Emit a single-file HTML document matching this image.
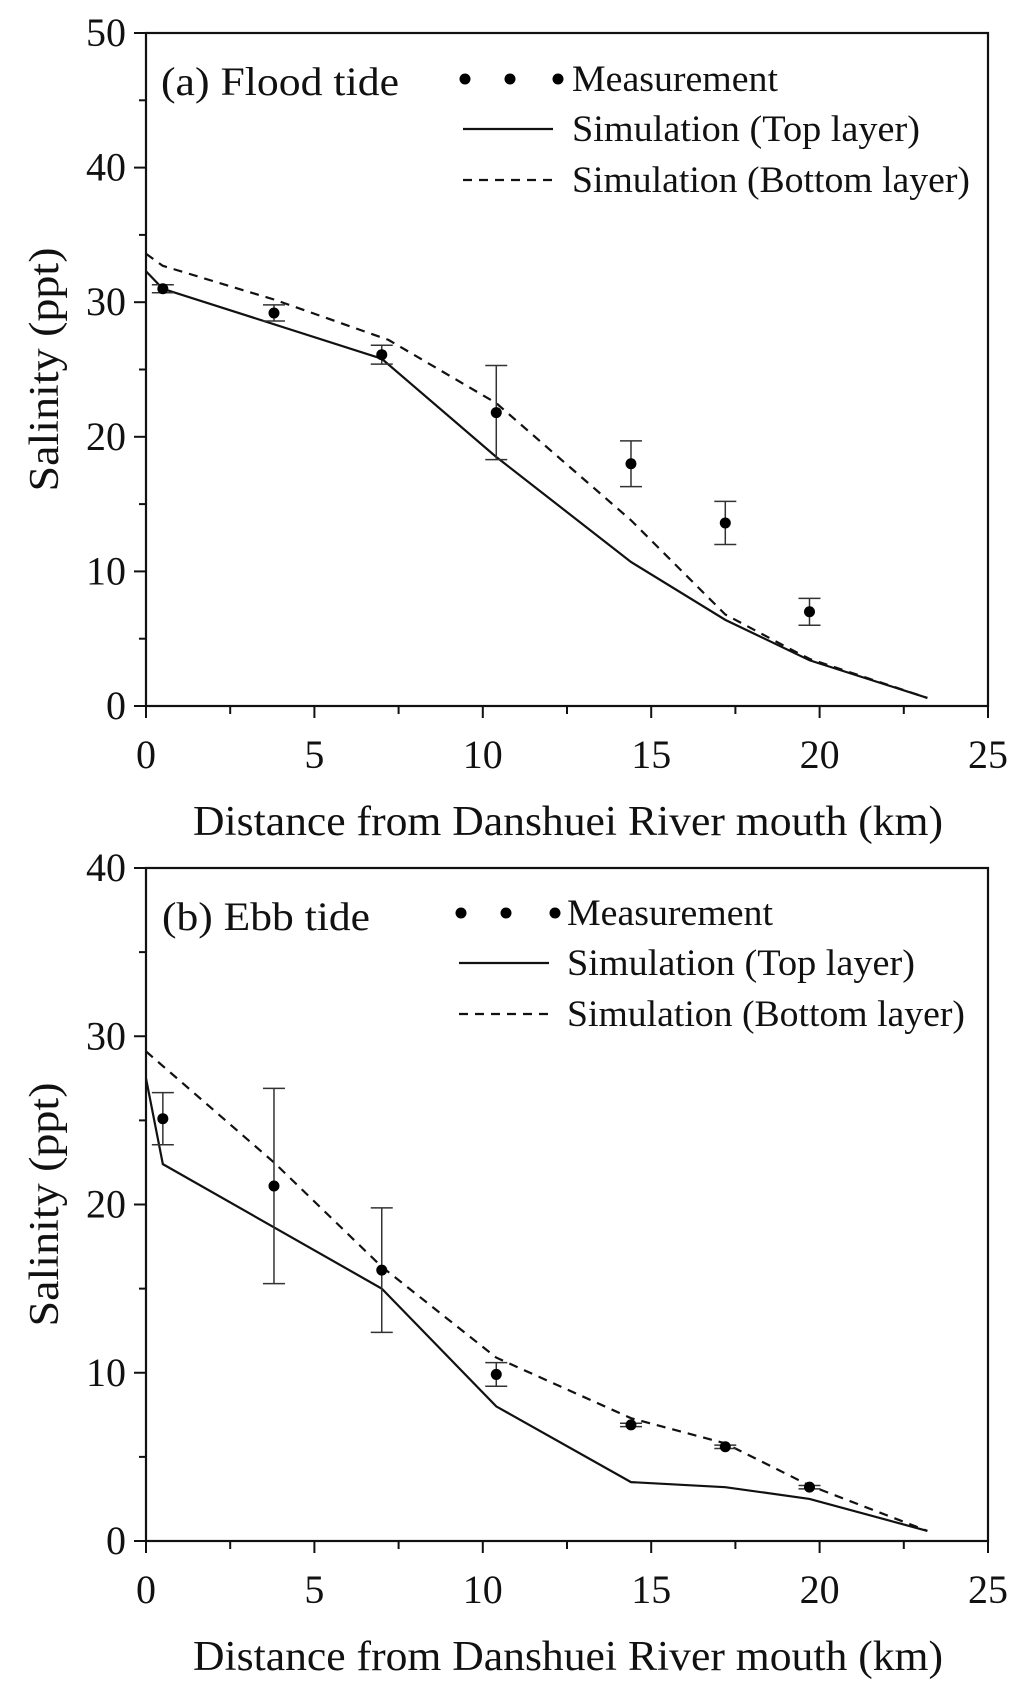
<!DOCTYPE html>
<html><head><meta charset="utf-8"><style>
html,body{margin:0;padding:0;background:#fff}
svg{display:block}
text{font-family:"Liberation Serif",serif;fill:#111}
</style></head><body>
<svg id="chart" width="1024" height="1699" viewBox="0 0 1024 1699" xmlns="http://www.w3.org/2000/svg"></svg>
<script>
const measX = [0.5, 3.8, 7.0, 10.4, 14.4, 17.2, 19.7];
const floodMeasY = [31.0, 29.2, 26.1, 21.8, 18.0, 13.6, 7.0];
const floodErr = [0.3, 0.6, 0.7, 3.5, 1.7, 1.6, 1.0];
const floodTopX = [0, 0.5, 7.0, 10.4, 14.4, 17.2, 19.7, 23.2];
const floodTopY = [32.3, 31.0, 25.8, 18.5, 10.7, 6.4, 3.4, 0.6];
const floodBotX = [0, 0.5, 3.8, 7.2, 10.4, 14.4, 17.2, 19.0, 19.7, 23.2];
const floodBotY = [33.6, 32.7, 30.2, 27.2, 22.5, 13.8, 6.8, 4.4, 3.5, 0.6];
const ebbMeasY = [25.1, 21.1, 16.1, 9.9, 6.9, 5.6, 3.2];
const ebbErr = [1.55, 5.8, 3.7, 0.7, 0.1, 0.1, 0.1];
const ebbTopX = [0, 0.5, 7.0, 10.4, 14.4, 17.2, 19.7, 23.2];
const ebbTopY = [27.5, 22.4, 15.0, 8.0, 3.5, 3.2, 2.5, 0.6];
const ebbBotX = [0, 3.8, 7.0, 10.4, 14.4, 17.2, 19.7, 23.2];
const ebbBotY = [29.1, 22.5, 16.3, 10.9, 7.3, 5.8, 3.3, 0.6];
const xTicks = [0, 5, 10, 15, 20, 25];
const floodYTicks = [0, 10, 20, 30, 40, 50];
const ebbYTicks = [0, 10, 20, 30, 40];

const NS = "http://www.w3.org/2000/svg";
const svg = document.getElementById('chart');
function mk(tag, attrs, parent) {
  const e = document.createElementNS(NS, tag);
  for (const k in attrs) e.setAttribute(k, attrs[k]);
  (parent || svg).appendChild(e);
  return e;
}
function panel(cfg) {
  const g = mk('g', {});
  
  
  const L = 146, R = 988, T = cfg.top, B = cfg.bottom;
  const xs = v => L + (v - 0) / 25 * (R - L);
  const ys = v => B - v / cfg.ymax * (B - T);
  const frame = mk('rect', {x: L, y: T, width: R - L, height: B - T, fill: 'none', stroke: '#111', 'stroke-width': 2.2}, g);
  
  
  for (let v = 0; v <= 25; v += 2.5) {
    const major = v % 5 === 0;
    mk('line', {x1: xs(v), x2: xs(v), y1: B, y2: B + (major ? 12 : 8), stroke: '#111', 'stroke-width': 2}, g);
  }
  xTicks.forEach(v => {
    const t = mk('text', {x: xs(v), y: B + 62, 'font-size': 40, 'text-anchor': 'middle'}, g);
    t.textContent = v;
    
    
  });
  for (let v = 0; v <= cfg.ymax; v += 5) {
    const major = v % 10 === 0;
    mk('line', {x1: L - (major ? 12 : 7), x2: L, y1: ys(v), y2: ys(v), stroke: '#111', 'stroke-width': 2}, g);
  }
  cfg.yTicks.forEach(v => {
    const t = mk('text', {x: 126, y: ys(v) + 13, 'font-size': 40, 'text-anchor': 'end'}, g);
    t.textContent = v;
    
    
  });
  const xt = mk('text', {x: 568, y: B + 129, 'font-size': 42, 'text-anchor': 'middle', textLength: 750, lengthAdjust: 'spacingAndGlyphs'}, g);
  xt.textContent = 'Distance from Danshuei River mouth (km)';
  
  
  const yc = (T + B) / 2;
  const yt = mk('text', {x: 0, y: 0, 'font-size': 42, 'text-anchor': 'middle', textLength: 244, lengthAdjust: 'spacingAndGlyphs', transform: `translate(58,${yc}) rotate(-90)`}, g);
  yt.textContent = 'Salinity (ppt)';
  
  
  const pts = (X, Y) => X.map((x, i) => xs(x) + ',' + ys(Y[i])).join(' ');
  const top = mk('polyline', {points: pts(cfg.topX, cfg.topY), fill: 'none', stroke: '#111', 'stroke-width': 2.2}, g);
  
  
  const bot = mk('polyline', {points: pts(cfg.botX, cfg.botY), fill: 'none', stroke: '#111', 'stroke-width': 2.2, 'stroke-dasharray': '9,7'}, g);
  
  
  measX.forEach((x, i) => {
    const y = cfg.measY[i], e = cfg.err[i];
    const eg = mk('g', {stroke: '#333', 'stroke-width': 1.5}, g);
    
    
    mk('line', {x1: xs(x), x2: xs(x), y1: ys(y - e), y2: ys(y + e)}, eg);
    mk('line', {x1: xs(x) - 11, x2: xs(x) + 11, y1: ys(y - e), y2: ys(y - e)}, eg);
    mk('line', {x1: xs(x) - 11, x2: xs(x) + 11, y1: ys(y + e), y2: ys(y + e)}, eg);
    const c = mk('circle', {cx: xs(x), cy: ys(y), r: 5.5, fill: '#000'}, g);
    
    
  });
  const lt = mk('text', {x: cfg.titleX, y: T + 62, 'font-size': 40, textLength: cfg.titleLen, lengthAdjust: 'spacingAndGlyphs'}, g);
  lt.textContent = cfg.title;
  
  
  const ly = cfg.legY;
  const lg = mk('g', {}, g);
  
  
  cfg.dotX.forEach(dx => mk('circle', {cx: dx, cy: ly[0], r: 5.5, fill: '#000'}, lg));
  mk('line', {x1: cfg.dotX[0] - 2, x2: cfg.dotX[0] + 88, y1: ly[1], y2: ly[1], stroke: '#111', 'stroke-width': 2.2}, lg);
  mk('line', {x1: cfg.dotX[0] - 2, x2: cfg.dotX[0] + 88, y1: ly[2], y2: ly[2], stroke: '#111', 'stroke-width': 2.2, 'stroke-dasharray': '9,7'}, lg);
  const labels = ['Measurement', 'Simulation (Top layer)', 'Simulation (Bottom layer)'];
  const lens = [206, 348, 398];
  labels.forEach((s, i) => {
    const t = mk('text', {x: cfg.textX, y: ly[i] + 12, 'font-size': 37, textLength: lens[i], lengthAdjust: 'spacingAndGlyphs'}, lg);
    t.textContent = s;
    
    
  });
}
panel({name: 'flood-tide-panel', top: 33, bottom: 706, ymax: 50, yTicks: floodYTicks,
  topX: floodTopX, topY: floodTopY, botX: floodBotX, botY: floodBotY, measY: floodMeasY, err: floodErr,
  title: '(a) Flood tide', titleX: 161, titleLen: 238, legY: [79, 129, 180], dotX: [465, 510, 558], textX: 572});
panel({name: 'ebb-tide-panel', top: 868, bottom: 1541, ymax: 40, yTicks: ebbYTicks,
  topX: ebbTopX, topY: ebbTopY, botX: ebbBotX, botY: ebbBotY, measY: ebbMeasY, err: ebbErr,
  title: '(b) Ebb tide', titleX: 162, titleLen: 208, legY: [913, 963, 1014], dotX: [461, 506, 555], textX: 567});
</script>
</body></html>
